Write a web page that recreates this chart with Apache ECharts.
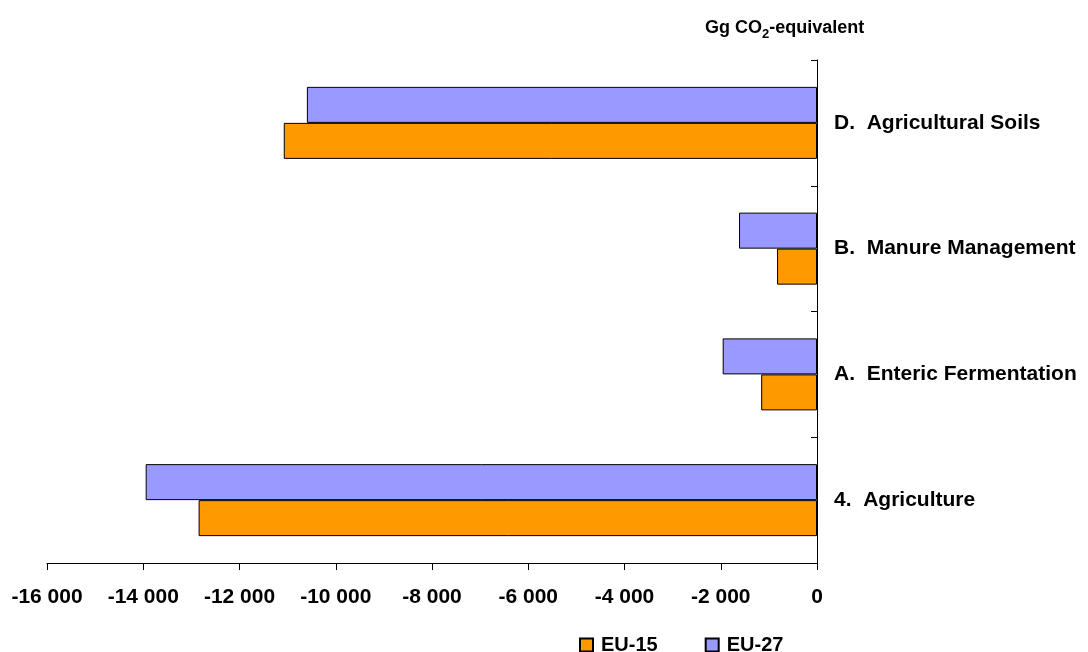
<!DOCTYPE html>
<html>
<head>
<meta charset="utf-8">
<title>Agriculture emissions change</title>
<script src="https://cdn.jsdelivr.net/npm/echarts@6/dist/echarts.min.js"></script>
<style>
  html, body { margin: 0; padding: 0; background: #fff; }
  #chart { width: 1088px; height: 652px; }
</style>
</head>
<body>
<div id="chart"></div>
<script>
// Source categories (bottom to top)
const categories = ['4.  Agriculture', 'A.  Enteric Fermentation', 'B.  Manure Management', 'D.  Agricultural Soils'];
// Change in emissions, Gg CO2-equivalent
const eu15 = [-12850, -1160, -830, -11080];
const eu27 = [-13950, -1960, -1620, -10600];
const seriesNames = ['EU-15', 'EU-27'];
const xTicks = { min: -16000, max: 0, step: 2000 };

const FONT = '"Liberation Sans", Arial, Helvetica, sans-serif';

function fmtThousands(v) {
  const s = Math.abs(v).toString().replace(/\B(?=(\d{3})+(?!\d))/g, ' ');
  return (v < 0 ? '-' : '') + s;
}

const chart = echarts.init(document.getElementById('chart'), null, { renderer: 'canvas' });

chart.setOption({
  backgroundColor: '#ffffff',
  animation: false,
  title: {
    text: '{a|Gg CO}{b|2}{a|-equivalent}',
    left: 700,
    top: 12,
    textStyle: {
      rich: {
        a: { fontFamily: FONT, fontWeight: 'bold', fontSize: 18, color: '#000', lineHeight: 20, verticalAlign: 'bottom' },
        b: { fontFamily: FONT, fontWeight: 'bold', fontSize: 13, color: '#000', lineHeight: 14, verticalAlign: 'bottom', padding: [0, 0, -4, 0] }
      }
    }
  },
  legend: {
    data: seriesNames,
    left: 574,
    top: 630,
    icon: 'rect',
    itemWidth: 13,
    itemHeight: 13,
    itemGap: 47,
    textStyle: { fontFamily: FONT, fontWeight: 'bold', fontSize: 20, color: '#000', padding: [0, 0, 0, 3] }
  },
  grid: { left: 47, right: 271, top: 60, bottom: 89, containLabel: false },
  xAxis: {
    type: 'value',
    min: xTicks.min,
    max: xTicks.max,
    interval: xTicks.step,
    axisLine: { show: true, lineStyle: { color: '#000', width: 1 } },
    axisTick: { show: true, length: 7, lineStyle: { color: '#000' } },
    splitLine: { show: false },
    axisLabel: {
      margin: 24,
      fontFamily: FONT, fontWeight: 'bold', fontSize: 21, color: '#000',
      formatter: fmtThousands
    }
  },
  yAxis: {
    type: 'category',
    position: 'right',
    data: categories,
    axisLine: { show: true, onZero: false, lineStyle: { color: '#000', width: 1 } },
    axisTick: { show: true, inside: true, length: 6, lineStyle: { color: '#000' } },
    axisLabel: {
      margin: 17,
      fontFamily: FONT, fontWeight: 'bold', fontSize: 21, color: '#000'
    },
    splitLine: { show: false }
  },
  // EU-27 listed first so it sits above EU-15 within each category band
  series: [
    {
      name: seriesNames[1],
      type: 'bar',
      data: eu27,
      barWidth: 36,
      barGap: '0%',
      itemStyle: { color: '#9999FF', borderColor: '#000', borderWidth: 1 }
    },
    {
      name: seriesNames[0],
      type: 'bar',
      data: eu15,
      barWidth: 36,
      barGap: '0%',
      itemStyle: { color: '#FF9900', borderColor: '#000', borderWidth: 1 }
    }
  ]
});
</script>
</body>
</html>
